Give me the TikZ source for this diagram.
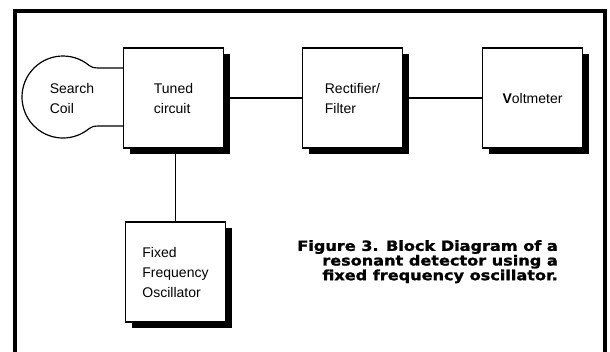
\documentclass[tikz,border=0pt]{standalone}
\usepackage{fontspec}
\setmainfont{Liberation Sans}
\newfontfamily\capfont[FakeStretch=1.15, FakeBold=1.5]{DejaVu Sans}
\usetikzlibrary{shadows,calc}
\begin{document}
\begin{tikzpicture}[x=1pt,y=-1pt,
  lbl/.style={align=left, inner sep=0pt, font=\fontsize{14}{20}\selectfont},
  blk/.style={lbl, draw, line width=1.2pt, fill=white, minimum width=100pt, minimum height=100pt,
    drop shadow={shadow xshift=6pt, shadow yshift=-6pt, fill=black, opacity=1}},
  wire/.style={line width=1.2pt},
  frame/.style={line width=3.5pt, line join=miter},
  captext/.style={anchor=north east, align=right, inner sep=0pt, font=\capfont\bfseries\fontsize{14}{12.5}\selectfont}]
\useasboundingbox (0,0) rectangle (610,351);
\draw[frame] (15,360) -- (15,11) -- (605,11) -- (605,360);
\node[blk] (tuned) at (173.5,98) {Tuned\\circuit};
\node[blk] (rect) at (352.5,98) {Rectifier/\\Filter};
\node[blk] (volt) at (532.5,98) {\textbf{V}oltmeter};
\node[blk] (osc) at (175.5,272) {Fixed\\Frequency\\Oscillator};
\node[lbl] (coil) at (72,98) {Search\\Coil};
\draw[wire] ($(tuned.west)+(0,-30)$) -- (99,68) .. controls (93,68) and (91.5,67) .. (89.35,65.6)
  arc[start angle=-50, end angle=-310, radius=41]
  .. controls (91.5,127) and (93,126) .. (99,126) -- ($(tuned.west)+(0,28)$);
\draw[wire] (tuned) -- (rect);
\draw[wire] (rect) -- (volt);
\draw[wire] (osc.north) -- (osc.north |- tuned.south);
\node[captext] (caption) at (558,240) {Figure 3. Block Diagram of a\\resonant detector using a\\fixed frequency oscillator.};
\end{tikzpicture}
\end{document}
